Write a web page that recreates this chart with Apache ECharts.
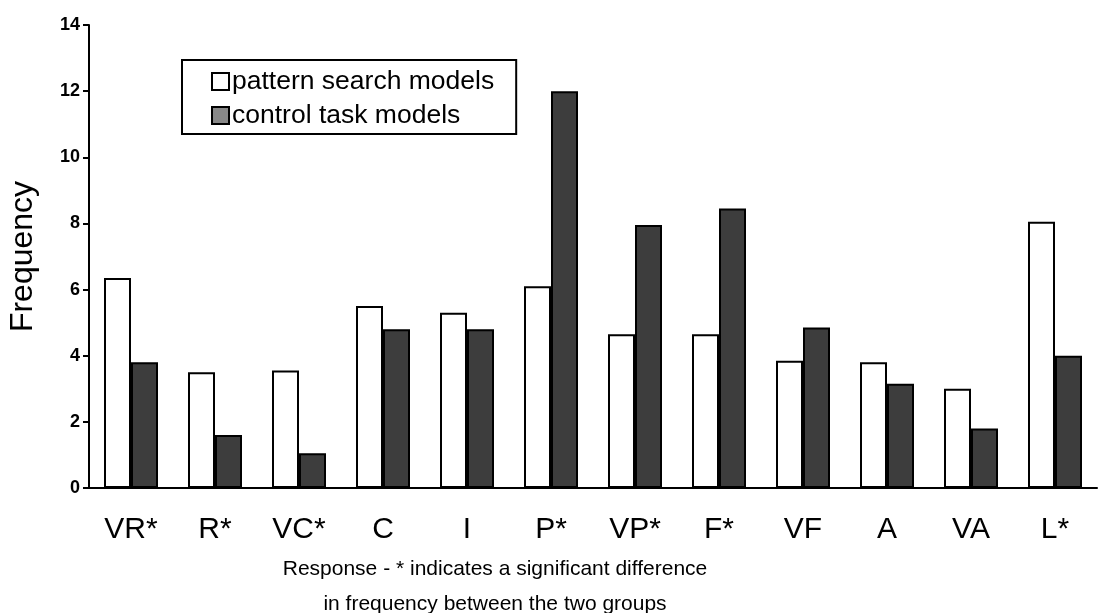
<!DOCTYPE html>
<html>
<head>
<meta charset="utf-8">
<script src="https://cdn.jsdelivr.net/npm/echarts@6/dist/echarts.min.js"></script>
<style>
  html, body { margin: 0; padding: 0; background: #fff; }
  #chart { width: 1103px; height: 613px; }
</style>
</head>
<body>
<div id="chart"></div>
<script>
// Response categories and frequencies
const categories = ['VR*', 'R*', 'VC*', 'C', 'I', 'P*', 'VP*', 'F*', 'VF', 'A', 'VA', 'L*'];
const patternSearch = [6.35, 3.5, 3.55, 5.5, 5.3, 6.1, 4.65, 4.65, 3.85, 3.8, 3.0, 8.05];
const controlTask = [3.8, 1.6, 1.05, 4.8, 4.8, 12.0, 7.95, 8.45, 4.85, 3.15, 1.8, 4.0];
const yTicks = { min: 0, max: 14, interval: 2 };

const chart = echarts.init(document.getElementById('chart'));
const font = 'Liberation Sans, Arial, sans-serif';

const option = {
    backgroundColor: '#fff',
    animation: false,
    title: {
        text: 'Response - * indicates a significant difference\nin frequency between the two groups',
        left: 490,
        top: 547,
        textAlign: 'center',
        textStyle: {
            fontFamily: font,
            fontSize: 21,
            fontWeight: 'normal',
            color: '#000',
            lineHeight: 35
        }
    },
    legend: {
        orient: 'vertical',
        left: 182,
        top: 60,
        padding: [8, 22, 5, 29],
        itemGap: 7,
        itemWidth: 17,
        itemHeight: 17,
        borderColor: '#000',
        borderWidth: 2,
        icon: 'rect',
        textStyle: { fontFamily: font, fontSize: 26.5, color: '#000', padding: [0, 0, 0, -2] },
        data: [
            { name: 'pattern search models' },
            { name: 'control task models', itemStyle: { color: '#888' } }
        ]
    },
    grid: { left: 89, right: 6, top: 25, bottom: 125, containLabel: false, outerBoundsMode: 'none' },
    xAxis: {
        type: 'category',
        data: categories,
        axisLine: { lineStyle: { color: '#000', width: 2 } },
        axisTick: { length: 12, lineStyle: { color: '#000', width: 2 } },
        axisLabel: { fontFamily: font, fontSize: 30, color: '#000', margin: 27 }
    },
    yAxis: {
        type: 'value',
        min: yTicks.min,
        max: yTicks.max,
        interval: yTicks.interval,
        name: 'Frequency',
        nameLocation: 'middle',
        nameGap: 50,
        nameTextStyle: { fontFamily: font, fontSize: 32, color: '#000' },
        splitLine: { show: false },
        axisLine: { show: true, lineStyle: { color: '#000', width: 2 } },
        axisTick: { show: true, length: 6, lineStyle: { color: '#000', width: 2 } },
        axisLabel: { fontFamily: font, fontSize: 18, fontWeight: 'bold', color: '#000', margin: 9 }
    },
    series: [
        {
            name: 'pattern search models',
            type: 'bar',
            data: patternSearch,
            barWidth: 27,
            barGap: '0%',
            itemStyle: { color: '#fff', borderColor: '#000', borderWidth: 2 }
        },
        {
            name: 'control task models',
            type: 'bar',
            data: controlTask,
            barWidth: 27,
            itemStyle: { color: '#3d3d3d', borderColor: '#000', borderWidth: 2 }
        }
    ]
};

chart.setOption(option);
</script>
</body>
</html>
